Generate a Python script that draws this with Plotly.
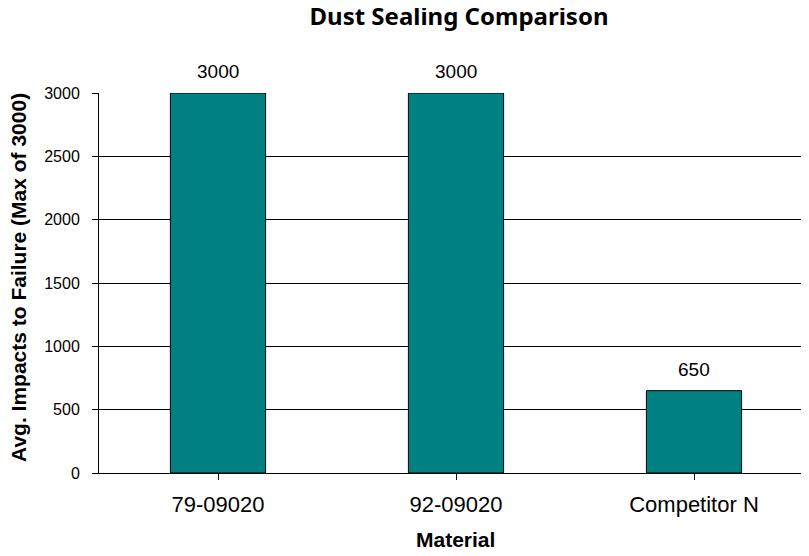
import plotly.graph_objects as go

materials = ["79-09020", "92-09020", "Competitor N"]
impacts = [3000, 3000, 650]
y_ticks = [0, 500, 1000, 1500, 2000, 2500, 3000]

OFF = 8  # page body margin
W, H = 809, 556
L, R, T, B = 99 - OFF, 0, 93 - OFF, 556 - (473 - OFF)
pw, ph = W - L - R, H - T - B
cat_w = 238.0


def px_x(p):
    return (p - OFF - L) / pw


def px_y(p):
    return (T + ph - (p - OFF)) / ph


fig = go.Figure(go.Bar(
    x=[0, 1, 2], y=impacts,
    width=0.4,
    marker=dict(color="#008080", line=dict(color="#000000", width=1)),
    cliponaxis=False,
))

label_font = dict(family="Liberation Sans, Arial, sans-serif", size=19, color="#000000")
annotations = [
    dict(x=i, y=v, text=str(v), xref="x", yref="y", showarrow=False,
         xanchor="center", yanchor="bottom", yshift=9, font=label_font)
    for i, v in enumerate(impacts)
]
annotations += [
    dict(text="<b>Avg. Impacts to Failure (Max of 3000)</b>", textangle=-90,
         xref="paper", yref="paper", x=px_x(18), y=px_y(278),
         xanchor="center", yanchor="middle", showarrow=False,
         font=dict(family="Liberation Sans, Arial, sans-serif", size=21, color="#000000")),
    dict(text="<b>Material</b>", xref="paper", yref="paper",
         x=px_x(455), y=px_y(539),
         xanchor="center", yanchor="middle", showarrow=False,
         font=dict(family="Liberation Sans, Arial, sans-serif", size=21, color="#000000")),
]

fig.update_layout(
    width=W, height=H,
    margin=dict(l=L, r=R, t=T, b=B, pad=0),
    paper_bgcolor="white", plot_bgcolor="white",
    showlegend=False,
    title=dict(text="<b>Dust Sealing Comparison</b>", x=(459 - OFF) / W, xanchor="center",
               y=1, yanchor="top",
               font=dict(family="Noto Sans, sans-serif", size=24, color="#000000")),
    xaxis=dict(range=[-0.5, -0.5 + pw / cat_w], tickvals=[0, 1, 2], ticktext=materials,
               showline=True, linecolor="#000000", linewidth=1,
               ticks="outside", ticklen=6, tickcolor="#000000", tickson="boundaries",
               showgrid=False, zeroline=False,
               tickfont=dict(family="Liberation Sans, Arial, sans-serif", size=22, color="#000000"),
               ticklabelstandoff=6),
    yaxis=dict(range=[0, 3000], tickvals=y_ticks,
               showline=True, linecolor="#000000", linewidth=1,
               ticks="outside", ticklen=6, tickcolor="#000000",
               showgrid=True, gridcolor="#000000", gridwidth=1, zeroline=False,
               tickfont=dict(family="Liberation Sans, Arial, sans-serif", size=16, color="#000000"),
               ticklabelstandoff=9),
    annotations=annotations,
)

fig.write_html("out.html")
